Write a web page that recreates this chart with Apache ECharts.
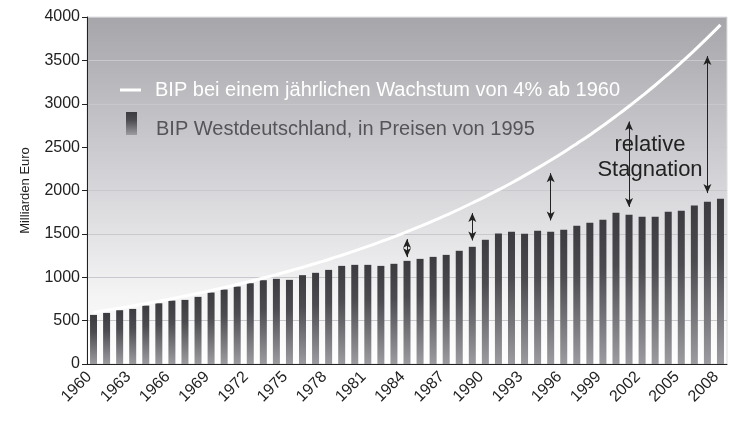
<!DOCTYPE html>
<html>
<head>
<meta charset="utf-8">
<script src="https://cdn.jsdelivr.net/npm/echarts@6/dist/echarts.min.js"></script>
<style>
  html, body { margin: 0; padding: 0; background: #fff; }
  #main { width: 733px; height: 421px; }
</style>
</head>
<body>
<div id="main"></div>
<script>
var years = ['1960','1961','1962','1963','1964','1965','1966','1967','1968','1969',
  '1970','1971','1972','1973','1974','1975','1976','1977','1978','1979',
  '1980','1981','1982','1983','1984','1985','1986','1987','1988','1989',
  '1990','1991','1992','1993','1994','1995','1996','1997','1998','1999',
  '2000','2001','2002','2003','2004','2005','2006','2007','2008'];
// BIP Westdeutschland, Mrd. Euro (Preise 1995)
var bip = [566,589,620,635,673,700,731,739,774,824,
  858,893,931,966,982,970,1024,1051,1085,1131,
  1143,1143,1131,1155,1189,1212,1235,1258,1305,1351,
  1432,1505,1524,1501,1536,1524,1547,1594,1628,1663,
  1744,1721,1698,1698,1755,1767,1828,1871,1905];
// weisse Kurve
var trend = [595,619,644,669,696,724,753,783,814,847,
  881,916,953,991,1030,1072,1114,1159,1205,1254,
  1304,1356,1410,1466,1525,1586,1650,1716,1784,1856,
  1930,2007,2087,2171,2258,2348,2442,2540,2641,2747,
  2857,2971,3090,3213,3342,3476,3615,3759,3909];
// Pfeile
var arrowYears = ['1984','1989','1995','2001','2007'];
var arrowTop = [1440,1740,2200,2795,3550];
var arrowBottom = [1232,1424,1655,1810,1970];

var trendName = 'BIP bei einem jährlichen Wachstum von 4% ab 1960';
var bipName = 'BIP Westdeutschland, in Preisen von 1995';
var font = 'Liberation Sans';

var arrows = arrowYears.map(function (y, i) {
  return [{coord: [y, arrowTop[i]]}, {coord: [y, arrowBottom[i]]}];
});

var myChart = echarts.init(document.getElementById('main'));
var option = {
  animation: false,
  backgroundColor: '#fff',
  textStyle: {fontFamily: font},
  grid: {
    left: 87, right: 6, top: 17, bottom: 57,
    show: true,
    borderWidth: 1,
    borderColor: '#dedee0',
    backgroundColor: new echarts.graphic.LinearGradient(0, 0, 0, 1, [
      {offset: 0, color: '#a6a6aa'},
      {offset: 0.45, color: '#d2d2d6'},
      {offset: 0.8, color: '#f4f4f5'},
      {offset: 1, color: '#ffffff'}
    ])
  },
  legend: [{
    data: [trendName],
    left: 115, top: 75,
    icon: 'rect', itemWidth: 21, itemHeight: 3,
    itemStyle: {color: '#fff'},
    textStyle: {fontSize: 20, color: '#fff', fontFamily: font, padding: [0, 0, 0, 9]}
  }, {
    data: [bipName],
    left: 121, top: 107,
    icon: 'rect', itemWidth: 11, itemHeight: 23,
    formatter: '{a|{name}}',
    textStyle: {
      fontSize: 20, color: '#555558', fontFamily: font, padding: [0, 0, 0, 14],
      rich: {a: {fontSize: 20, color: '#555558', fontFamily: font, padding: [12, 0, 0, 0]}}
    }
  }],
  xAxis: {
    type: 'category',
    data: years,
    axisLine: {lineStyle: {color: '#222', width: 1}},
    axisTick: {interval: 2, length: 5, lineStyle: {color: '#222'}},
    axisLabel: {interval: 2, rotate: 45, fontSize: 16, color: '#222', margin: 6, padding: [0, 6, 0, 0]}
  },
  yAxis: {
    type: 'value',
    min: 0, max: 4000, interval: 500,
    name: 'Milliarden Euro',
    nameLocation: 'middle',
    nameGap: 55,
    nameMoveOverlap: false,
    nameTextStyle: {fontSize: 13, color: '#222'},
    axisLine: {show: true, lineStyle: {color: '#222'}},
    axisTick: {show: true, length: 5, lineStyle: {color: '#222'}},
    axisLabel: {
      fontSize: 16, color: '#222', margin: 7,
      formatter: function (v) { return String(v); }
    },
    splitLine: {lineStyle: {color: '#c9c9cd'}}
  },
  graphic: [{
    type: 'text',
    x: 650, y: 132,
    z: 10,
    style: {
      text: 'relative\nStagnation',
      fontSize: 22, fontFamily: font,
      fill: '#222',
      align: 'center', verticalAlign: 'top',
      lineHeight: 25
    }
  }],
  series: [{
    name: bipName,
    type: 'bar',
    data: bip,
    barWidth: 7,
    itemStyle: {
      color: new echarts.graphic.LinearGradient(0, 0, 0, 1, [
        {offset: 0, color: '#3c3c40'},
        {offset: 0.35, color: '#4c4c50'},
        {offset: 1, color: '#9c9ca0'}
      ])
    },
    markLine: {
      silent: true,
      symbol: ['arrow', 'arrow'],
      symbolSize: [6, 9],
      lineStyle: {color: '#222', width: 1, type: 'solid'},
      label: {show: false},
      data: arrows
    }
  }, {
    name: trendName,
    type: 'line',
    data: trend,
    smooth: true,
    symbol: 'none',
    z: 5,
    itemStyle: {color: '#fff'},
    lineStyle: {color: '#fff', width: 3}
  }]
};
myChart.setOption(option);
</script>
</body>
</html>
